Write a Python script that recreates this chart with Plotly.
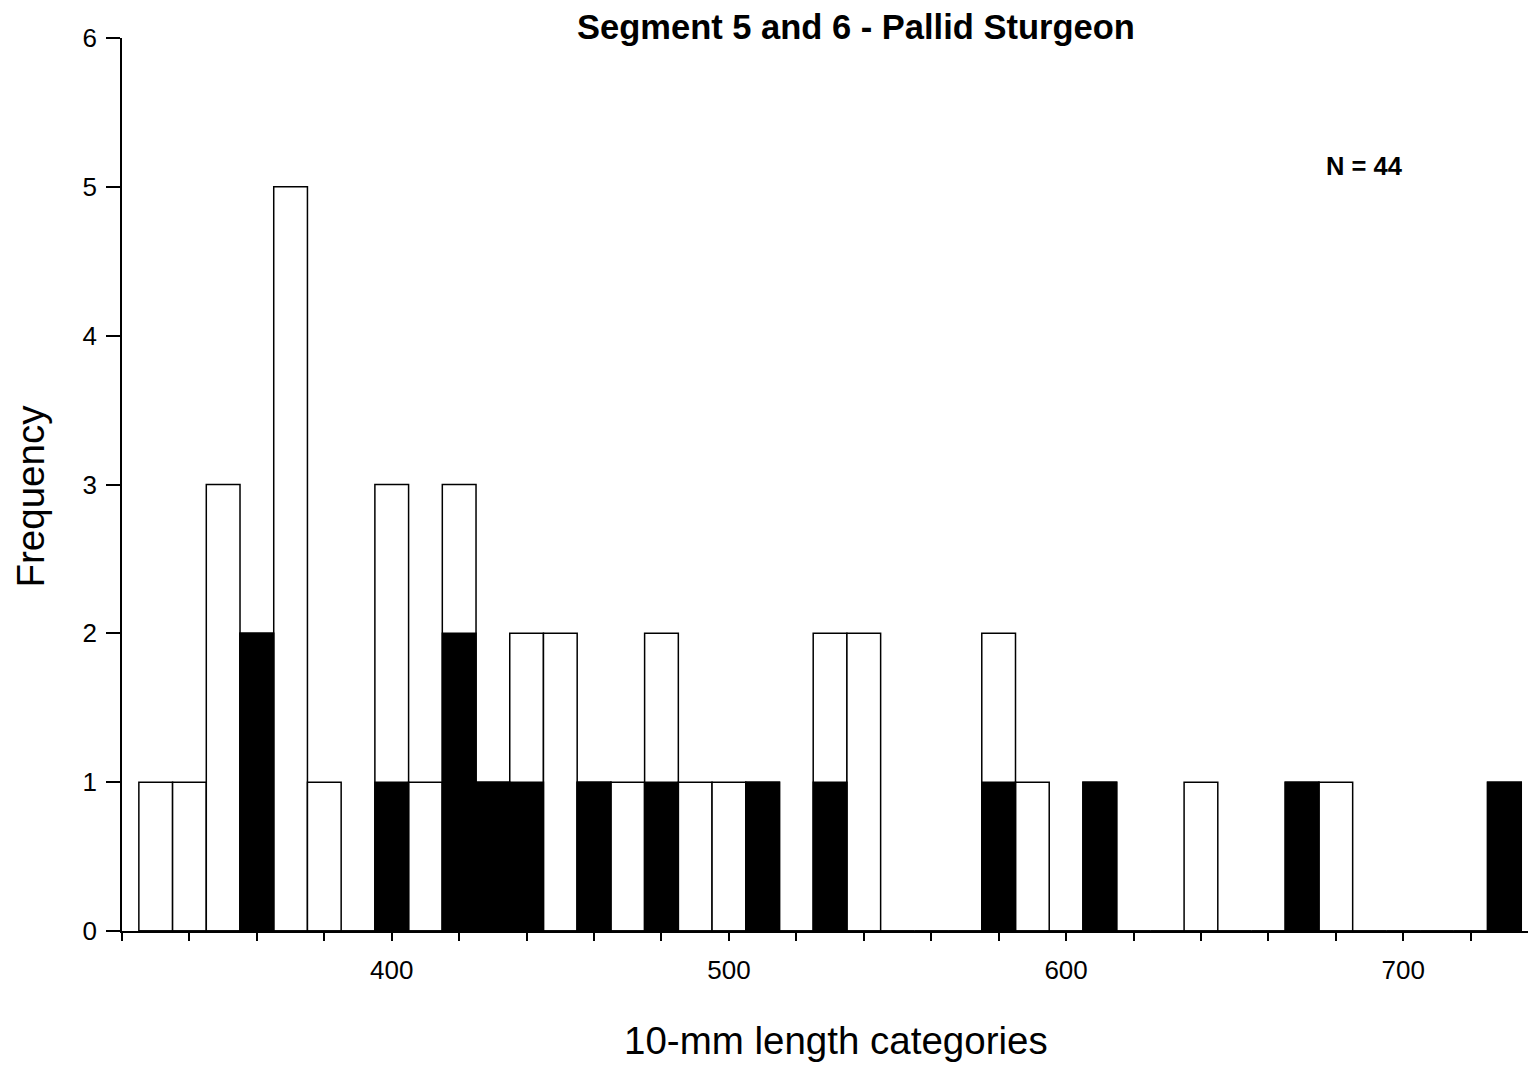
import plotly.graph_objects as go

# 10-mm length bins (bin centres, mm)
bins = list(range(330, 740, 10))

# Fish counted in each bin (all fish)
total_counts = [1, 1, 3, 2, 5, 1, 0, 3, 1, 3,
                1, 2, 2, 1, 1, 2, 1, 1, 1, 0,
                2, 2, 0, 0, 0, 2, 1, 0, 1, 0,
                0, 1, 0, 0, 1, 1, 0, 0, 0, 0,
                1]

# Subset shown in solid black
black_counts = [0, 0, 0, 2, 0, 0, 0, 1, 0, 2,
                1, 1, 0, 1, 0, 1, 0, 0, 1, 0,
                1, 0, 0, 0, 0, 1, 0, 0, 1, 0,
                0, 0, 0, 0, 1, 0, 0, 0, 0, 0,
                1]

x_tick_vals = list(range(320, 737, 20))
x_tick_text = [str(v) if v % 100 == 0 else "" for v in x_tick_vals]
y_tick_vals = [0, 1, 2, 3, 4, 5, 6]

n_total = sum(total_counts)

FONT = "Liberation Sans, Arial, sans-serif"

fig = go.Figure()
fig.add_bar(
    x=bins, y=total_counts, width=10,
    marker=dict(color="white", line=dict(color="black", width=1.5)),
    hoverinfo="x+y",
)
fig.add_bar(
    x=bins, y=black_counts, width=10,
    marker=dict(color="black", line=dict(color="black", width=1.5)),
    hoverinfo="x+y",
)

fig.update_layout(
    width=1528, height=1065,
    margin=dict(l=122, r=0, t=38, b=134),
    barmode="overlay",
    showlegend=False,
    plot_bgcolor="white",
    paper_bgcolor="white",
    font=dict(family=FONT, color="black"),
)

fig.update_xaxes(
    range=[320, 737],
    tickmode="array", tickvals=x_tick_vals, ticktext=x_tick_text,
    ticks="outside", ticklen=8, tickwidth=1.5, tickcolor="black",
    ticklabelstandoff=7,
    showline=True, linecolor="black", linewidth=1.5,
    showgrid=False, zeroline=False,
    tickfont=dict(size=26, family=FONT, color="black"),
)
fig.update_yaxes(
    range=[0, 6],
    tickmode="array", tickvals=y_tick_vals,
    ticks="outside", ticklen=14, tickwidth=1.5, tickcolor="black",
    ticklabelstandoff=4,
    showline=True, linecolor="black", linewidth=1.5,
    showgrid=False, zeroline=False,
    tickfont=dict(size=26, family=FONT, color="black"),
)

fig.add_annotation(
    text="<b>Segment 5 and 6 - Pallid Sturgeon</b>",
    xref="paper", yref="paper", x=0.522, y=1.0118,
    xanchor="center", yanchor="middle", showarrow=False,
    font=dict(size=34.5, family=FONT, color="black"),
)
fig.add_annotation(
    text="10-mm length categories",
    xref="paper", yref="paper", x=0.508, y=-0.123,
    xanchor="center", yanchor="middle", showarrow=False,
    font=dict(size=38.5, family=FONT, color="black"),
)
fig.add_annotation(
    text="Frequency", textangle=-90,
    xref="paper", yref="paper", x=-0.0654, y=0.4866,
    xanchor="center", yanchor="middle", showarrow=False,
    font=dict(size=38.5, family=FONT, color="black"),
)
fig.add_annotation(
    text=f"<b>N = {n_total}</b>",
    xref="x", yref="y", x=688.4, y=5.14,
    xanchor="center", yanchor="middle", showarrow=False,
    font=dict(size=25.5, family=FONT, color="black"),
)

fig.write_html("out.html")
